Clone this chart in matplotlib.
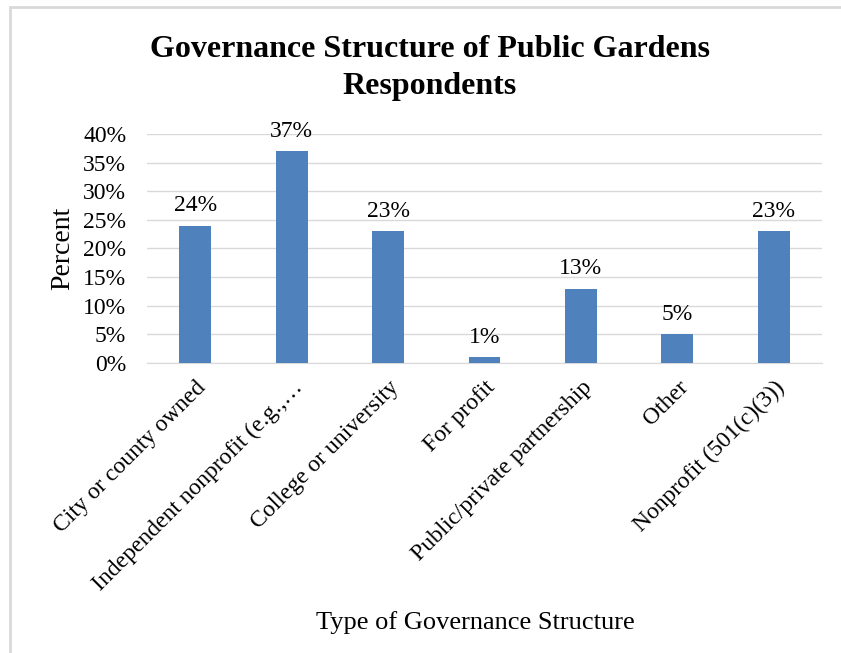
import numpy as np
import matplotlib.pyplot as plt
from matplotlib.patches import Rectangle

categories = ['City or county owned', 'Independent nonprofit (e.g.,\u2026',
              'College or university', 'For profit', 'Public/private partnership',
              'Other', 'Nonprofit (501(c)(3))']
percent = [24, 37, 23, 1, 13, 5, 23]
yticks = [0, 5, 10, 15, 20, 25, 30, 35, 40]

plt.rcParams['font.family'] = ['Liberation Serif', 'DejaVu Serif']

fig = plt.figure(figsize=(8.41, 6.53), dpi=100)
ax = fig.add_axes([0.1748, 0.4441, 0.8026, 0.3507])

x = np.arange(len(categories))
ax.bar(x, percent, width=0.33, color='#4f81bd', zorder=3)
for xi, v in zip(x, percent):
    ax.text(xi, v + 1.6, '%d%%' % v, ha='center', va='bottom', fontsize=17)

ax.set_xlim(-0.5, len(categories) - 0.5)
ax.set_ylim(0, 40)
ax.set_yticks(yticks)
ax.set_yticklabels(['%d%%' % t for t in yticks], fontsize=17)
ax.set_xticks(x)
ax.set_xticklabels(categories, rotation=45, ha='right', rotation_mode='anchor', fontsize=17)
ax.tick_params(length=0)
ax.tick_params(axis='y', pad=15)
ax.tick_params(axis='x', pad=10)
ax.grid(axis='y', color='#d9d9d9', linewidth=1, zorder=0)
for s in ['top', 'right', 'left']:
    ax.spines[s].set_visible(False)
ax.spines['bottom'].set_color('#d9d9d9')

ax.set_ylabel('Percent', fontsize=20, labelpad=6)
fig.text(0.565, 0.047, 'Type of Governance Structure', ha='center', va='center', fontsize=19)
fig.text(0.511, 0.896, 'Governance Structure of Public Gardens\nRespondents', ha='center',
         va='center', fontsize=23, fontweight='bold', linespacing=1.38)

# chart frame
fig.patches.append(Rectangle((10 / 841, -0.1), 1.2, 1 - 7 / 653 + 0.1, transform=fig.transFigure,
                             fill=False, edgecolor='#d9d9d9', linewidth=2))

fig.savefig('out.png', dpi=100)
